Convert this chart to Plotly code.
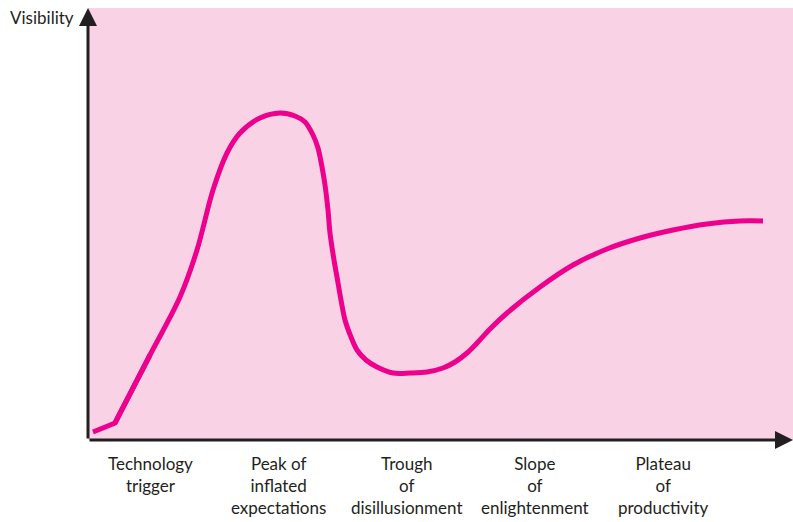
import plotly.graph_objects as go

# Hype-cycle curve (time position, visibility)
time_pos = [5, 27, 62, 92, 109, 125, 139, 152, 172, 192, 207, 217, 225, 230, 234, 237,
            240, 242, 246, 249, 253, 257, 263, 269, 278, 289, 305, 322, 339, 355, 367,
            379, 390, 402, 419, 452, 485, 519, 552, 585, 619, 652, 675]
visibility = [8, 17, 85, 143, 190, 250, 287, 307, 322, 327, 324, 318, 305, 292, 273, 255,
              230, 207, 180, 163, 140, 120, 103, 90, 80, 73, 67, 67, 68, 72, 78,
              87, 98, 111, 127, 153, 175, 191, 202, 210, 216, 219, 219]

stage_labels = ["Technology<br>trigger", "Peak of<br>inflated<br>expectations",
                "Trough<br>of<br>disillusionment", "Slope<br>of<br>enlightenment",
                "Plateau<br>of<br>productivity"]
stage_x = [62, 190, 319, 447, 575]

x_max, y_max = 705, 432
ink = "#231F20"
magenta = "#EC008C"
font_family = "Lato"

fig = go.Figure()
fig.add_trace(go.Scatter(x=time_pos[:3], y=visibility[:3], mode="lines",
                         line=dict(color=magenta, width=5), hoverinfo="skip"))
fig.add_trace(go.Scatter(x=time_pos[1:], y=visibility[1:], mode="lines",
                         line=dict(color=magenta, width=5, shape="spline", smoothing=0.9),
                         hoverinfo="skip"))

annotations = []
annotations.append(dict(x=x_max, y=0, ax=0, ay=0, xref="x", yref="y", axref="x", ayref="y",
                        showarrow=True, arrowhead=2, arrowsize=1.2, arrowwidth=3,
                        arrowcolor=ink, text=""))
annotations.append(dict(x=0, y=y_max, ax=0, ay=0, xref="x", yref="y", axref="x", ayref="y",
                        showarrow=True, arrowhead=2, arrowsize=1.2, arrowwidth=3,
                        arrowcolor=ink, text=""))
annotations.append(dict(x=-12 / x_max, y=(y_max - 10) / y_max, xref="paper", yref="paper",
                        text="Visibility", showarrow=False, xanchor="right", yanchor="middle",
                        font=dict(family=font_family, size=17, color=ink)))
for lbl, xp in zip(stage_labels, stage_x):
    annotations.append(dict(x=xp, y=-11 / y_max, xref="x", yref="paper", text=lbl,
                            showarrow=False, xanchor="center", yanchor="top", align="center",
                            font=dict(family=font_family, size=17, color=ink)))

fig.update_layout(
    width=793, height=522,
    margin=dict(l=88, r=0, t=8, b=82),
    paper_bgcolor="white", plot_bgcolor="#F9D3E5",
    showlegend=False,
    xaxis=dict(range=[0, x_max], showgrid=False, zeroline=False, showticklabels=False,
               showline=False, ticks="", fixedrange=True),
    yaxis=dict(range=[0, y_max], showgrid=False, zeroline=False, showticklabels=False,
               showline=False, ticks="", fixedrange=True),
    annotations=annotations,
)

fig.write_html("out.html", config={"displayModeBar": False},
               post_script="document.body.style.margin='0';")
